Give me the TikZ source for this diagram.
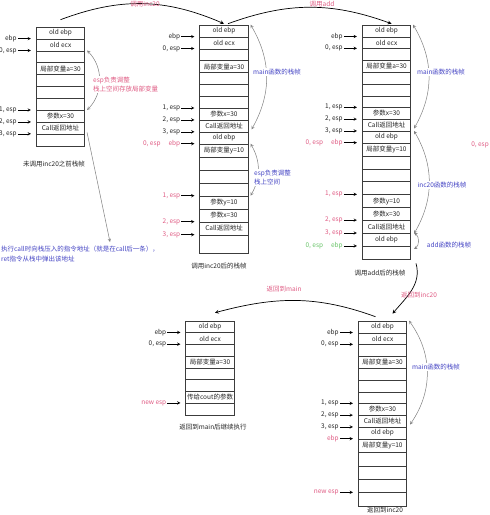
\documentclass[tikz,border=0pt]{standalone}
\usepackage{fontspec}
\setmainfont{Noto Sans CJK SC}
\usetikzlibrary{arrows, positioning}

\definecolor{notepink}{RGB}{224,92,132}
\definecolor{noteblue}{RGB}{68,68,196}
\definecolor{notegreen}{RGB}{104,196,104}
\definecolor{framegray}{RGB}{60,60,60}

\tikzstyle{cell} = [
    rectangle,
    draw=framegray,
    line width=0.6pt,
    minimum width=48.5pt,
    inner sep=0pt,
    text=black!85,
    font=\fontsize{6.5}{7}\selectfont
]
\tikzstyle{lbl} = [
    inner sep=1pt,
    text=black!85,
    font=\fontsize{6.5}{7}\selectfont
]
\tikzstyle{memo} = [
    fill=white,
    inner sep=1pt,
    align=left,
    font=\fontsize{6.5}{9.5}\selectfont
]
\tikzstyle{ptr} = [->, >=stealth, shorten >=5pt, line width=0.5pt]
\tikzstyle{framearc} = [<->, >=stealth, draw=gray, line width=0.5pt]
\tikzstyle{notearrow} = [->, >=stealth, draw=gray, line width=0.5pt]
\tikzstyle{callarc} = [->, >=stealth, line width=0.7pt]

\begin{document}
\begin{tikzpicture}[x=1pt, y=-1pt, node distance=18pt]

\fill[white] (0,0) rectangle (490,515);
\useasboundingbox (0,0) rectangle (490,515);

% stack before inc20
\foreach \t [count=\i] in {old ebp, old ecx, {}, 局部变量a=30, {}, {}, {}, 参数x=30, Call返回地址, {}}
    \node (pre\i) [cell, minimum height=11.9pt] at (60.5, {27+(\i-0.5)*11.9}) {\t};

% stack after inc20
\foreach \t [count=\i] in {old ebp, old ecx, {}, 局部变量a=30, {}, {}, {}, 参数x=30, Call返回地址, old ebp}
    \node (inc\i) [cell, minimum height=11.9pt] at (224, {25+(\i-0.5)*11.9}) {\t};
\foreach \t [count=\i from 11] in {局部变量y=10, {}, {}, {}, 参数y=10, 参数x=30, Call返回地址}
    \node (inc\i) [cell, minimum height=13pt] at (224, {144+(\i-10.5)*13}) {\t};
\node (inc18) [cell, minimum height=18pt] at (224, 244) {};

% stack after add
\foreach \t [count=\i] in {old ebp, old ecx, {}, 局部变量a=30, {}, {}, {}, 参数x=30, Call返回地址, old ebp}
    \node (add\i) [cell, minimum height=11.8pt] at (386.5, {25+(\i-0.5)*11.8}) {\t};
\foreach \t [count=\i from 11] in {局部变量y=10, {}, {}, {}, 参数y=10, 参数x=30, Call返回地址, old ebp, {}}
    \node (add\i) [cell, minimum height=12.9pt] at (386.5, {143+(\i-10.5)*12.9}) {\t};

% back in main
\foreach \t [count=\i] in {old ebp, old ecx, {}, 局部变量a=30, {}, {}, 传给cout的参数, {}}
    \node (mn\i) [cell, minimum height=11.75pt] at (210, {321+(\i-0.5)*11.75}) {\t};

% back in inc20
\foreach \t [count=\i] in {old ebp, old ecx, {}, 局部变量a=30, {}, {}, {}, 参数x=30, Call返回地址, old ebp}
    \node (ret\i) [cell, minimum height=11.8pt] at (382.5, {321+(\i-0.5)*11.8}) {\t};
\foreach \t [count=\i from 11] in {局部变量y=10, {}, {}, {}, {}}
    \node (ret\i) [cell, minimum height=13.4pt] at (382.5, {439+(\i-10.5)*13.4}) {\t};

% pointers
\node (preebp) [lbl, left=of pre2.north west] {ebp};
\node (presp0) [lbl, left=of pre3.north west] {0, esp};
\node (presp1) [lbl, left=of pre8.north west] {1, esp};
\node (presp2) [lbl, left=of pre9.north west] {2, esp};
\node (presp3) [lbl, left=of pre10.north west] {3, esp};
\draw [ptr] (preebp) -- (pre2.north west);
\draw [ptr] (presp0) -- (pre3.north west);
\draw [ptr] (presp1) -- (pre8.north west);
\draw [ptr] (presp2) -- (pre9.north west);
\draw [ptr] (presp3) -- (pre10.north west);

\node (incebp) [lbl, left=of inc2.north west] {ebp};
\node (incsp0) [lbl, left=of inc3.north west] {0, esp};
\node (incsp1) [lbl, left=of inc8.north west] {1, esp};
\node (incsp2) [lbl, left=of inc9.north west] {2, esp};
\node (incsp3) [lbl, left=of inc10.north west] {3, esp};
\node (incebpb) [lbl, text=notepink, left=of inc11.north west] {0, esp\hspace{8pt}ebp};
\node (incsp4) [lbl, text=notepink, left=of inc15.north west] {1, esp};
\node (incsp5) [lbl, text=notepink, left=of inc17.north west] {2, esp};
\node (incsp6) [lbl, text=notepink, left=of inc18.north west] {3, esp};
\draw [ptr] (incebp) -- (inc2.north west);
\draw [ptr] (incsp0) -- (inc3.north west);
\draw [ptr] (incsp1) -- (inc8.north west);
\draw [ptr] (incsp2) -- (inc9.north west);
\draw [ptr] (incsp3) -- (inc10.north west);
\draw [ptr] (incebpb) -- (inc11.north west);
\draw [ptr] (incsp4) -- (inc15.north west);
\draw [ptr] (incsp5) -- (inc17.north west);
\draw [ptr] (incsp6) -- (inc18.north west);

\node (addebp) [lbl, left=of add2.north west] {ebp};
\node (addsp0) [lbl, left=of add3.north west] {0, esp};
\node (addsp1) [lbl, left=of add8.north west] {1, esp};
\node (addsp2) [lbl, left=of add9.north west] {2, esp};
\node (addsp3) [lbl, left=of add10.north west] {3, esp};
\node (addebpb) [lbl, text=notepink, left=of add11.north west] {0, esp\hspace{8pt}ebp};
\node (addsp4) [lbl, text=notepink, left=of add15.north west] {1, esp};
\node (addsp5) [lbl, text=notepink, left=of add17.north west] {2, esp};
\node (addsp6) [lbl, text=notepink, left=of add18.north west] {3, esp};
\node (addebpc) [lbl, text=notegreen, left=of add19.north west] {0, esp\hspace{8pt}ebp};
\draw [ptr] (addebp) -- (add2.north west);
\draw [ptr] (addsp0) -- (add3.north west);
\draw [ptr] (addsp1) -- (add8.north west);
\draw [ptr] (addsp2) -- (add9.north west);
\draw [ptr] (addsp3) -- (add10.north west);
\draw [ptr] (addebpb) -- (add11.north west);
\draw [ptr] (addsp4) -- (add15.north west);
\draw [ptr] (addsp5) -- (add17.north west);
\draw [ptr] (addsp6) -- (add18.north west);
\draw [ptr] (addebpc) -- (add19.north west);

\node (mnebp) [lbl, left=of mn2.north west] {ebp};
\node (mnsp0) [lbl, left=of mn3.north west] {0, esp};
\node (mnnew) [lbl, text=notepink, left=of mn8.north west] {new esp};
\draw [ptr] (mnebp) -- (mn2.north west);
\draw [ptr] (mnsp0) -- (mn3.north west);
\draw [ptr] (mnnew) -- (mn8.north west);

\node (retebp) [lbl, left=of ret2.north west] {ebp};
\node (retsp0) [lbl, left=of ret3.north west] {0, esp};
\node (retsp1) [lbl, left=of ret8.north west] {1, esp};
\node (retsp2) [lbl, left=of ret9.north west] {2, esp};
\node (retsp3) [lbl, left=of ret10.north west] {3, esp};
\node (retebpb) [lbl, text=notepink, left=of ret11.north west] {ebp};
\node (retnew) [lbl, text=notepink, left=of ret15.north west] {new esp};
\draw [ptr] (retebp) -- (ret2.north west);
\draw [ptr] (retsp0) -- (ret3.north west);
\draw [ptr] (retsp1) -- (ret8.north west);
\draw [ptr] (retsp2) -- (ret9.north west);
\draw [ptr] (retsp3) -- (ret10.north west);
\draw [ptr] (retebpb) -- (ret11.north west);
\draw [ptr] (retnew) -- (ret15.north west);

% frame spans
\draw [framearc] ([xshift=2pt]pre3.north east) to [bend left=45] ([xshift=2pt]pre8.north east);
\node (preadj) [memo, text=notepink, anchor=west] at (92, 84.5) {esp负责调整\\栈上空间存放局部变量};

\draw [framearc] ([xshift=2pt]inc1.north east) to [bend left=30] ([xshift=3pt, yshift=3pt]inc9.south east);
\draw [framearc] ([xshift=2pt]inc11.north east) to [bend left=30] ([xshift=2pt]inc15.north east);
\node (incmain) [memo, text=noteblue] at (277, 72) {main函数的栈帧};
\node (incadj) [memo, text=noteblue, anchor=west] at (253, 177.5) {esp负责调整\\栈上空间};

\draw [framearc] ([xshift=2pt]add1.north east) to [bend left=30] ([xshift=3pt, yshift=3pt]add9.south east);
\draw [framearc] ([xshift=3pt]add10.north east) to [bend left=30] ([xshift=3pt]add17.south east);
\draw [framearc] ([xshift=3pt]add18.north east) to [bend left=60] ([xshift=3pt, yshift=-3pt]add19.north east);
\node (addmain) [memo, text=noteblue] at (441, 72) {main函数的栈帧};
\node (addinc) [memo, text=noteblue] at (442, 185) {inc20函数的栈帧};
\node (addadd) [memo, text=noteblue] at (449, 245) {add函数的栈帧};

\draw [framearc] ([xshift=2pt]ret1.north east) to [bend left=35] ([xshift=3pt, yshift=3pt]ret9.south east);
\node (retmain) [memo, text=noteblue] at (436, 367) {main函数的栈帧};

% calls and returns
\draw [callarc] ([yshift=7pt]pre1.north) to [bend left=22] ([yshift=1pt]inc1.north);
\node (callinc) [lbl, text=notepink] at (145, 4.5) {调用inc20};
\draw [callarc] ([xshift=4pt, yshift=1pt]inc1.north) to [bend left=20] ([xshift=5pt, yshift=1pt]add1.north);
\node (calladd) [lbl, text=notepink] at (322, 4.5) {调用add};

\draw [callarc] ([xshift=5pt, yshift=-4pt]add19.south east) to [out=-75, in=50] ([xshift=10pt, yshift=7pt]ret1.north);
\node (backinc) [lbl, text=notepink] at (419, 295) {返回到inc20};
\draw [callarc] ([xshift=-7pt, yshift=4pt]ret1.north) to [out=160, in=15] ([xshift=5pt, yshift=8pt]mn1.north);
\node (backmain) [lbl, text=notepink] at (284, 289) {返回到main};

% return address note
\coordinate (notetip) at (110, 242);
\draw [notearrow] ([xshift=2pt, yshift=2pt]pre9.south east) -- (notetip);
\node (callnote) [memo, text=noteblue, anchor=north west] at (0, 245) {执行call时向栈压入的指令地址（就是在call后一条），\\ret指令从栈中弹出该地址};

\node (nextsp) [lbl, text=notepink, anchor=east] at (490, 145) {0, esp};

% captions
\node (precap) [lbl] at (54, 164) {未调用inc20之前栈帧};
\node (inccap) [lbl] at (219, 266) {调用inc20后的栈帧};
\node (addcap) [lbl] at (380, 273) {调用add后的栈帧};
\node (mncap) [lbl] at (213, 427) {返回到main后继续执行};
\node (retcap) [lbl] at (385, 510.5) {返回到inc20};

\end{tikzpicture}
\end{document}
